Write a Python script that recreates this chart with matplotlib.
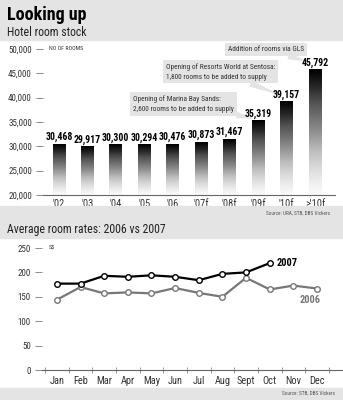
import matplotlib.pyplot as plt
import numpy as np
from matplotlib.patches import Rectangle

plt.rcParams['font.family'] = ['Roboto Condensed', 'DejaVu Sans']

# hotel room stock
years = ["'02", "'03", "'04", "'05", "'06", "'07f", "'08f", "'09f", "'10f", ">'10f"]
rooms = [30468, 29917, 30300, 30294, 30476, 30873, 31467, 35319, 39157, 45792]
room_ticks = [20000, 25000, 30000, 35000, 40000, 45000, 50000]

# average room rates
months = ["Jan", "Feb", "Mar", "Apr", "May", "Jun", "Jul", "Aug", "Sept", "Oct", "Nov", "Dec"]
rate_2007 = [177, 177, 193, 191, 194, 191, 184, 197, 200, 219]
rate_2006 = [144, 170, 157, 159, 157, 168, 158, 150, 189, 165, 173, 167]
rate_ticks = [0, 50, 100, 150, 200, 250]

band = '#e4e4e4'
W, H = 343, 400
fig = plt.figure(figsize=(3.43, 4.0), dpi=100)

def fig_rect(x0, y0, x1, y1):
    # pixel box (top-left origin) -> figure patch
    fig.patches.append(Rectangle((x0 / W, 1 - y1 / H), (x1 - x0) / W, (y1 - y0) / H,
                                 transform=fig.transFigure, color=band, zorder=0))

fig_rect(0, 0, W, 40)
fig_rect(0, 206, W, 238)
fig_rect(0, 388, W, H)

fig.text(7 / W, 1 - 15 / H, "Looking up", fontsize=13, fontweight='bold', va='center')
fig.text(7 / W, 1 - 32 / H, "Hotel room stock", fontsize=8.5, va='center', color='#222222')
fig.text(330 / W, 1 - 213 / H, "Source: URA, STB, DBS Vickers", fontsize=3.8, ha='right', va='center', color='#555555')
fig.text(7 / W, 1 - 229 / H, "Average room rates: 2006 vs 2007", fontsize=8.5, va='center', color='#222222')
fig.text(335 / W, 1 - 393 / H, "Source: STB, DBS Vickers", fontsize=3.8, ha='right', va='center', color='#555555')

# ---- top chart
ax = fig.add_axes([43 / W, 1 - 195 / H, 292 / W, 146 / H])
ax.set_facecolor('none')
x = np.arange(len(years))
bars = ax.bar(x, rooms, width=0.45, color='none', zorder=2)
grad = np.linspace(0, 1, 256).reshape(-1, 1)
for b in bars:
    x0 = b.get_x()
    ax.imshow(grad, cmap='Greys_r', vmin=0, vmax=1.04, aspect='auto', origin='upper',
              extent=[x0, x0 + b.get_width(), 20000, b.get_height()], zorder=2)
for xi, v in zip(x, rooms):
    ax.text(xi, v + 400, f"{v:,}", ha='center', va='bottom', fontsize=7, fontweight='bold')
ax.set_xlim(-0.56, 9.7)
ax.set_ylim(20000, 50000)
ax.set_yticks(room_ticks)
ax.set_yticklabels([f"{t:,}" for t in room_ticks])
ax.set_xticks(x)
ax.set_xticklabels(years)
for s in ['top', 'right', 'left']:
    ax.spines[s].set_visible(False)
ax.spines['bottom'].set_color('#666666')
ax.spines['bottom'].set_linewidth(0.8)
ax.tick_params(axis='y', length=5, width=0.6, color='#777777', labelsize=6.5, pad=3, labelcolor='#333333')
ax.tick_params(axis='x', length=0, labelsize=7.5, pad=3, labelcolor='#333333')
ax.text(-0.35, 50000, "NO OF ROOMS", fontsize=4.2, va='center', color='#333333')

box = dict(boxstyle='square,pad=0.4', fc=band, ec='none')
arrow = dict(arrowstyle='wedge,tail_width=0.9,shrink_factor=0.5', fc=band, ec='none', shrinkA=0, shrinkB=0)
ax.annotate("Opening of Marina Bay Sands:\n2,600 rooms to be added to supply", xy=(6.85, 35700),
            xytext=(2.6, 38700), fontsize=5.3, va='center', ha='left', color='#333333',
            bbox=box, arrowprops=arrow, zorder=1, linespacing=1.5)
ax.annotate("Opening of Resorts World at Sentosa:\n1,800 rooms to be added to supply", xy=(7.8, 40500),
            xytext=(3.75, 45300), fontsize=5.3, va='center', ha='left', color='#333333',
            bbox=box, arrowprops=arrow, zorder=1, linespacing=1.5)
ax.annotate("Addition of rooms via GLS", xy=(8.8, 47300),
            xytext=(5.95, 49900), fontsize=5.3, va='center', ha='left', color='#333333',
            bbox=box, arrowprops=arrow, zorder=1)

# ---- bottom chart
ax2 = fig.add_axes([42 / W, 30 / H, 301 / W, 122 / H])
ax2.set_facecolor('none')
m = np.arange(len(months))
ax2.plot(m, rate_2006, color='#777777', lw=1.6, marker='o', ms=4, mfc='white', mec='#777777', mew=1, zorder=2)
ax2.plot(m[:len(rate_2007)], rate_2007, color='black', lw=1.6, marker='o', ms=4, mfc='white', mec='black', mew=1, zorder=3)
ax2.text(9.3, rate_2007[-1], "2007", fontsize=7.5, fontweight='bold', va='center')
ax2.text(11.15, 144, "2006", fontsize=7.5, fontweight='bold', va='center', ha='right', color='#777777')
ax2.set_xlim(-0.63, 12.1)
ax2.set_ylim(0, 250)
ax2.set_yticks(rate_ticks)
ax2.set_xticks(m)
ax2.set_xticklabels(months)
ax2.set_xticks(np.arange(-0.5, 12, 1), minor=True)
for s in ['top', 'right', 'left']:
    ax2.spines[s].set_visible(False)
ax2.spines['bottom'].set_color('#666666')
ax2.spines['bottom'].set_linewidth(0.8)
ax2.tick_params(axis='y', length=5, width=0.6, color='#777777', labelsize=6.5, pad=3, labelcolor='#333333')
ax2.tick_params(axis='x', which='major', length=0, labelsize=7.5, pad=4, labelcolor='#333333')
ax2.tick_params(axis='x', which='minor', length=4, width=0.6, color='#888888', direction='inout')
ax2.text(-0.35, 250, "S$", fontsize=4.5, va='center', color='#333333')

fig.savefig('out.png', dpi=100)
